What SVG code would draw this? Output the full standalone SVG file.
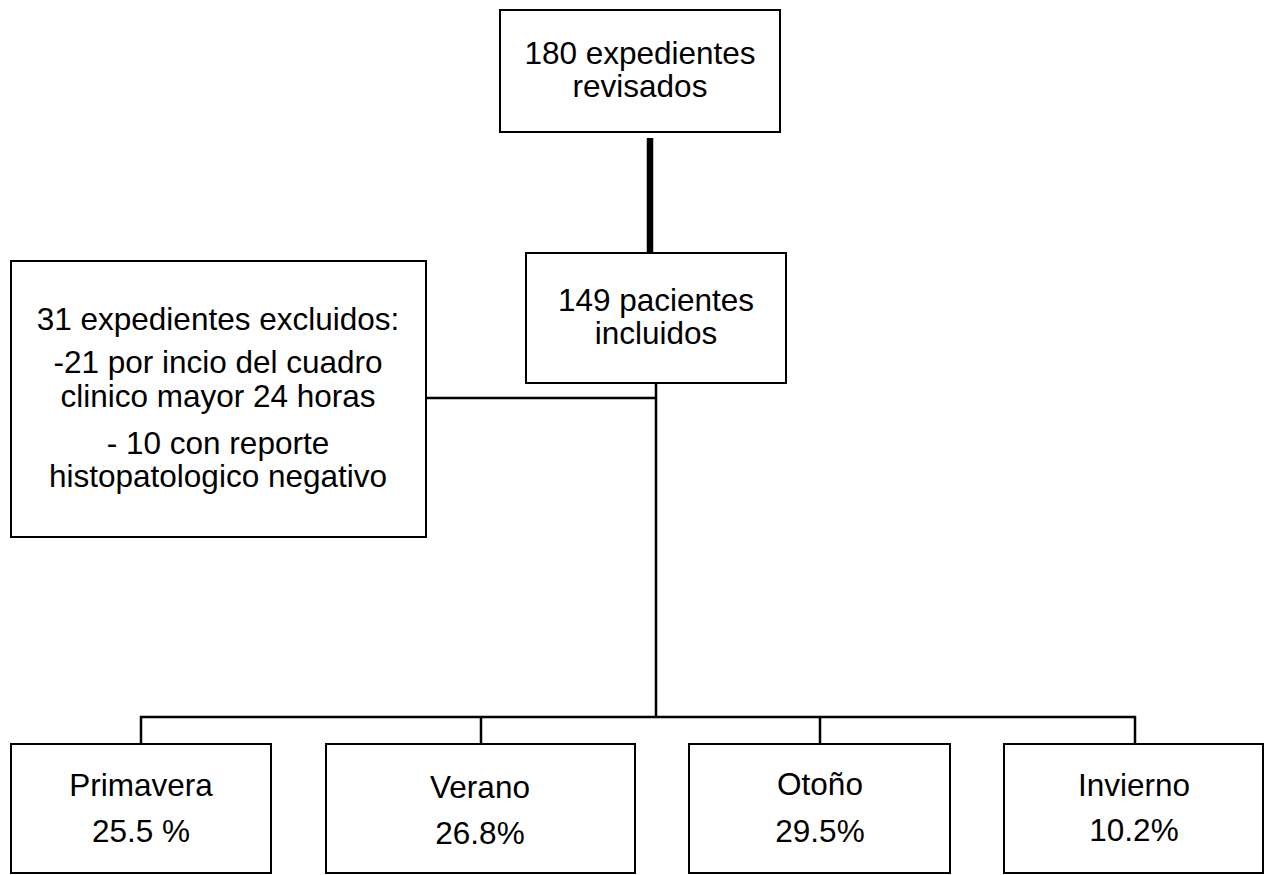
<svg xmlns="http://www.w3.org/2000/svg" width="1265" height="875" viewBox="0 0 1265 875">
<style>
.box{fill:#fff;stroke:#000;stroke-width:2}
.t{font-family:"Liberation Sans",Arial,sans-serif;font-size:31.5px;fill:#000;text-anchor:middle}
.c{stroke:#000;fill:none;stroke-width:2.5}
</style>
<rect width="1265" height="875" fill="#fff"/>
<g id="connectors">
<line x1="650" y1="138" x2="650" y2="253" stroke="#000" stroke-width="6.5"/>
<line class="c" x1="656" y1="383" x2="656" y2="717"/>
<line class="c" x1="426" y1="398" x2="656" y2="398" stroke-width="2"/>
<polyline class="c" points="141,744 141,717 1135,717 1135,744"/>
<line class="c" x1="481" y1="717" x2="481" y2="744"/>
<line class="c" x1="820" y1="717" x2="820" y2="744"/>
</g>
<g id="n-revisados">
<rect class="box" x="500" y="10" width="280" height="122"/>
<text class="t" x="640" y="64">180 expedientes</text>
<text class="t" x="640" y="97">revisados</text>
</g>
<g id="n-incluidos">
<rect class="box" x="526" y="253" width="260" height="130"/>
<text class="t" x="656" y="311">149 pacientes</text>
<text class="t" x="656" y="344">incluidos</text>
</g>
<g id="n-excluidos">
<rect class="box" x="11" y="261" width="415" height="276"/>
<text class="t" x="218" y="330">31 expedientes excluidos:</text>
<text class="t" x="218" y="373">-21 por incio del cuadro</text>
<text class="t" x="218" y="407">clinico mayor 24 horas</text>
<text class="t" x="218" y="454">- 10 con reporte</text>
<text class="t" x="218" y="487">histopatologico negativo</text>
</g>
<g id="n-primavera">
<rect class="box" x="11" y="744" width="260" height="129"/>
<text class="t" x="141" y="796">Primavera</text>
<text class="t" x="141" y="842">25.5 %</text>
</g>
<g id="n-verano">
<rect class="box" x="326" y="744" width="309" height="129"/>
<text class="t" x="480" y="798">Verano</text>
<text class="t" x="480" y="844">26.8%</text>
</g>
<g id="n-otono">
<rect class="box" x="689" y="744" width="261" height="129"/>
<text class="t" x="820" y="795">Otoño</text>
<text class="t" x="820" y="842">29.5%</text>
</g>
<g id="n-invierno">
<rect class="box" x="1004" y="744" width="259" height="129"/>
<text class="t" x="1134" y="796">Invierno</text>
<text class="t" x="1134" y="841">10.2%</text>
</g>
</svg>
